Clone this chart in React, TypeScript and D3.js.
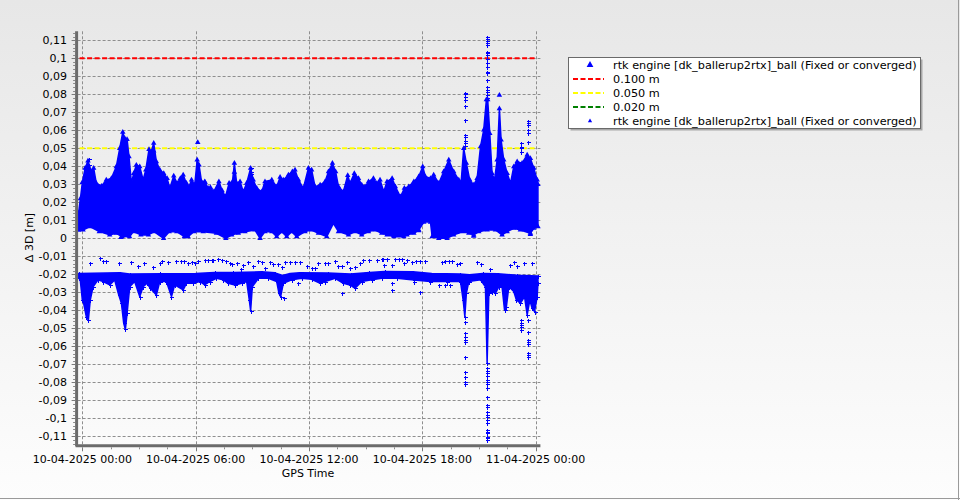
import React from "react";
import * as d3 from "d3";

const W = 960;
const H = 500;

// x values: hours since 10-04-2025 00:00 (GPS Time)
const xTickHours = [0, 6, 12, 18, 24];
const xTickLabels = [
  "10-04-2025 00:00",
  "10-04-2025 06:00",
  "10-04-2025 12:00",
  "10-04-2025 18:00",
  "11-04-2025 00:00",
];
const xMinorHours = [1.5, 3, 4.5, 7.5, 9, 10.5, 13.5, 15, 16.5, 19.5, 21, 22.5];

const yTickValues = [0.11, 0.1, 0.09, 0.08, 0.07, 0.06, 0.05, 0.04, 0.03, 0.02, 0.01, 0, -0.01, -0.02, -0.03, -0.04, -0.05, -0.06, -0.07, -0.08, -0.09, -0.1, -0.11];
const yTickLabels = ["0,11", "0,1", "0,09", "0,08", "0,07", "0,06", "0,05", "0,04", "0,03", "0,02", "0,01", "0", "-0,01", "-0,02", "-0,03", "-0,04", "-0,05", "-0,06", "-0,07", "-0,08", "-0,09", "-0,1", "-0,11"];

const thresholdValues = [0.1, 0.05, 0.02];
const thresholdColors = ["#ff0000", "#ffff00", "#008000"];
const thresholdLabels = ["0.100 m", "0.050 m", "0.020 m"];
const seriesName = "rtk engine [dk_ballerup2rtx]_ball (Fixed or converged)";

// Series 1 (triangles): upper edge of the dense band [hour, value]
const s1Top: [number, number][] = [
  [-0.2, 0.014], [-0.1, 0.022], [0.0, 0.031], [0.15, 0.039], [0.3, 0.043], [0.48, 0.037], [0.6, 0.039],
  [0.74, 0.0306], [1.01, 0.029], [1.27, 0.0324], [1.54, 0.0333], [1.8, 0.0398], [1.98, 0.05], [2.14, 0.0589],
  [2.24, 0.0556], [2.37, 0.055], [2.47, 0.0454], [2.6, 0.0306], [2.72, 0.036], [2.86, 0.0407], [3.04, 0.0398],
  [3.22, 0.0324], [3.36, 0.038], [3.53, 0.0494], [3.64, 0.048], [3.78, 0.0528], [3.92, 0.0426], [4.1, 0.038],
  [4.31, 0.0361], [4.49, 0.0333], [4.63, 0.0278], [4.84, 0.0346], [5.02, 0.0306], [5.19, 0.0333], [5.34, 0.0352],
  [5.51, 0.0306], [5.64, 0.0283], [5.78, 0.0324], [5.95, 0.0296], [6.08, 0.0435], [6.18, 0.0407], [6.31, 0.0315],
  [6.48, 0.0315], [6.66, 0.0278], [6.78, 0.0283], [6.96, 0.0259], [7.23, 0.0315], [7.4, 0.0265], [7.58, 0.0231],
  [7.77, 0.0306], [7.95, 0.0315], [8.05, 0.0417], [8.17, 0.0306], [8.35, 0.0315], [8.52, 0.0259], [8.7, 0.0306],
  [8.91, 0.0389], [9.05, 0.0324], [9.23, 0.0278], [9.5, 0.0259], [9.67, 0.0315], [10.03, 0.0324], [10.29, 0.0287],
  [10.47, 0.0339], [10.64, 0.0324], [10.91, 0.0352], [11.12, 0.037], [11.26, 0.038], [11.44, 0.0324], [11.7, 0.0278],
  [11.97, 0.0389], [12.14, 0.038], [12.32, 0.0287], [12.59, 0.0296], [12.85, 0.0315], [13.03, 0.037], [13.24, 0.0417],
  [13.41, 0.037], [13.56, 0.0287], [13.82, 0.0259], [14.05, 0.035], [14.17, 0.0306], [14.4, 0.0361], [14.62, 0.0333],
  [14.79, 0.0296], [14.97, 0.0287], [15.15, 0.0315], [15.41, 0.0333], [15.59, 0.0306], [15.76, 0.0324], [15.96, 0.0259],
  [16.13, 0.0315], [16.4, 0.0333], [16.57, 0.0287], [16.84, 0.0231], [17.05, 0.0278], [17.28, 0.0287], [17.55, 0.0315],
  [17.81, 0.0343], [18.02, 0.0398], [18.16, 0.0343], [18.43, 0.0333], [18.6, 0.0352], [18.87, 0.0306], [19.13, 0.037],
  [19.4, 0.0435], [19.66, 0.037], [19.93, 0.0324], [20.05, 0.0306], [20.19, 0.05], [20.33, 0.0417], [20.51, 0.0324],
  [20.72, 0.0296], [20.9, 0.0333], [21.08, 0.0509], [21.25, 0.0602], [21.39, 0.077], [21.46, 0.077], [21.57, 0.0583],
  [21.69, 0.0361], [21.82, 0.0324], [21.96, 0.0435], [22.08, 0.072], [22.17, 0.0546], [22.31, 0.0435], [22.49, 0.0361],
  [22.67, 0.0306], [22.84, 0.0398], [23.02, 0.0426], [23.28, 0.0417], [23.55, 0.0463], [23.72, 0.0444], [23.9, 0.0389],
  [24.08, 0.0324], [24.12, 0.03],
];

// Series 1: lower edge of the dense band
const s1Bottom: [number, number][] = [
  [-0.2, 0.0045], [0.04, 0.0046], [0.4, 0.0065], [0.9, 0.0037], [1.45, 0.0019], [1.8, 0.0028], [2.1, 0.001],
  [2.5, 0.0009], [2.7, 0.0037], [3.1, 0.0019], [3.5, 0.0019], [3.8, 0.0037], [4.3, 0.0], [4.6, 0.0037], [5.0, 0.0037],
  [5.4, 0.0009], [5.6, 0.0009], [5.9, 0.0037], [6.4, 0.0037], [7.1, 0.0028], [7.6, 0.0], [7.91, 0.0019], [8.26, 0.0028],
  [8.61, 0.0037], [9.14, 0.0046], [9.41, 0.0], [9.67, 0.0037], [10.03, 0.0037], [10.29, 0.0009], [10.56, 0.0037],
  [10.82, 0.0009], [11.08, 0.0037], [11.35, 0.0009], [11.79, 0.0037], [12.14, 0.0046], [12.5, 0.0028], [12.94, 0.0009],
  [13.29, 0.0083], [13.56, 0.0037], [14.09, 0.0019], [14.44, 0.0037], [14.79, 0.0019], [15.15, 0.0037], [15.5, 0.0046],
  [15.85, 0.0028], [16.13, 0.0019], [16.49, 0.0009], [17.02, 0.0009], [17.19, 0.0019], [17.55, 0.0028], [17.81, 0.0046],
  [18.08, 0.009], [18.43, 0.009], [18.52, 0.0009], [18.87, 0.0], [19.31, 0.0], [19.66, 0.0019], [20.19, 0.0037],
  [20.46, 0.0028], [20.72, 0.0019], [20.99, 0.0037], [21.43, 0.0046], [21.87, 0.0046], [22.22, 0.0019], [22.49, 0.0037],
  [22.84, 0.0056], [23.19, 0.0046], [23.72, 0.0028], [23.9, 0.0056], [24.12, 0.0065],
];

// Series 1: isolated triangles
const s1Single: [number, number][] = [
  [6.11, 0.0533], [22.08, 0.0795], [8.05, 0.0367], [6.5, 0.031], [2.26, 0.052], [3.78, 0.0485], [2.05, 0.0005],
  [17.81, 0.0042], [20.72, 0.0012], [23.72, 0.0022],
];

// Series 2 (plus markers): band near -0.02, top edge and bottom edge
const s2Top: [number, number][] = [
  [-0.2, -0.0195], [2, -0.0192], [2.5, -0.0198], [6, -0.0196], [7, -0.019], [8, -0.019], [9.5, -0.0186],
  [10.2, -0.0192], [10.6, -0.0207], [11.0, -0.0196], [11.5, -0.0192], [13, -0.0193], [14.2, -0.0198], [15.2, -0.019],
  [16, -0.0184], [17.5, -0.0186], [18.5, -0.0196], [20, -0.0198], [20.5, -0.0203], [21.2, -0.0195], [22, -0.0197],
  [23, -0.0205], [24.12, -0.021],
];
const s2Bottom: [number, number][] = [
  [-0.2, -0.022], [-0.11, -0.0231], [0.0, -0.0343], [0.07, -0.0361], [0.21, -0.0435], [0.32, -0.0454], [0.42, -0.0343],
  [0.57, -0.0269], [0.83, -0.0231], [1.1, -0.024], [1.45, -0.0259], [1.71, -0.0231], [1.93, -0.0315], [2.07, -0.0361],
  [2.19, -0.0472], [2.28, -0.0506], [2.37, -0.0417], [2.51, -0.0269], [2.77, -0.024], [3.04, -0.0324], [3.22, -0.0269],
  [3.43, -0.025], [3.6, -0.0278], [3.92, -0.0315], [4.1, -0.024], [4.45, -0.024], [4.72, -0.0324], [4.89, -0.0259],
  [5.34, -0.0287], [5.51, -0.025], [5.87, -0.025], [6.22, -0.024], [6.48, -0.0259], [6.75, -0.024], [7.1, -0.0222],
  [7.46, -0.0231], [7.72, -0.025], [8.08, -0.0259], [8.44, -0.025], [8.7, -0.024], [8.84, -0.0343], [8.91, -0.0402],
  [9.0, -0.0269], [9.32, -0.0222], [9.85, -0.0222], [10.29, -0.024], [10.41, -0.0306], [10.5, -0.0324], [10.64, -0.025],
  [11.08, -0.0231], [11.61, -0.0222], [12.14, -0.0228], [12.59, -0.025], [12.85, -0.024], [13.38, -0.0222], [13.82, -0.025],
  [14.17, -0.0259], [14.44, -0.0278], [14.79, -0.024], [15.32, -0.0231], [15.85, -0.0222], [16.66, -0.0222],
  [17.55, -0.0231], [18.43, -0.024], [19.31, -0.024], [20.02, -0.024], [20.16, -0.0343], [20.25, -0.0435], [20.33, -0.0306],
  [20.46, -0.024], [21.08, -0.0231], [21.34, -0.0269], [21.43, -0.069], [21.52, -0.0306], [21.69, -0.0296], [21.87, -0.0306],
  [22.05, -0.0269], [22.22, -0.0269], [22.35, -0.0398], [22.45, -0.038], [22.58, -0.0269], [22.84, -0.0296], [22.98, -0.0343],
  [23.19, -0.0361], [23.41, -0.0324], [23.55, -0.0426], [23.69, -0.0343], [23.81, -0.0389], [23.94, -0.0407], [24.08, -0.0324],
  [24.12, -0.025],
];

// Series 2: scattered single points
const s2Scatter: [number, number][] = [
  [0.39, -0.0135], [0.92, -0.0111], [1.1, -0.0128], [1.24, -0.0124], [1.93, -0.0139], [2.56, -0.0133], [2.93, -0.0154],
  [3.27, -0.0139], [3.75, -0.0161], [4.1, -0.0139], [4.24, -0.0124], [4.56, -0.0133], [4.98, -0.0128], [5.25, -0.0128],
  [5.37, -0.0128], [5.58, -0.0135], [5.78, -0.0133], [5.95, -0.0139], [6.13, -0.0128], [6.48, -0.0122], [6.66, -0.0122],
  [6.84, -0.0122], [6.93, -0.0122], [7.19, -0.0117], [7.37, -0.0122], [7.63, -0.0128], [7.82, -0.0139], [7.94, -0.0143],
  [8.17, -0.0135], [8.4, -0.0172], [8.52, -0.0148], [8.75, -0.0133], [9.05, -0.0152], [9.28, -0.0124], [9.5, -0.013],
  [9.67, -0.0167], [9.94, -0.013], [10.11, -0.0143], [10.38, -0.0143], [10.55, -0.0157], [10.73, -0.0133], [11.0, -0.0133],
  [11.26, -0.0133], [11.53, -0.013], [11.88, -0.0154], [12.14, -0.0167], [12.32, -0.0167], [12.46, -0.0139], [12.85, -0.0135],
  [13.03, -0.0139], [13.38, -0.0124], [13.56, -0.0152], [13.73, -0.0152], [14.0, -0.013], [14.17, -0.0167], [14.44, -0.0161],
  [14.7, -0.0139], [14.88, -0.012], [15.15, -0.0122], [15.59, -0.0122], [15.9, -0.0115], [15.87, -0.0117], [15.96, -0.0148],
  [16.13, -0.0117], [16.4, -0.0148], [16.57, -0.0117], [16.75, -0.0117], [16.93, -0.0117], [17.05, -0.0139], [17.19, -0.012],
  [17.46, -0.0133], [17.69, -0.0124], [17.9, -0.0124], [18.16, -0.0124], [19.05, -0.0133], [19.22, -0.0124], [19.4, -0.0124],
  [19.58, -0.0124], [19.84, -0.0143], [20.02, -0.0139], [20.9, -0.0133], [21.08, -0.0143], [21.57, -0.0172], [22.63, -0.0148],
  [22.84, -0.0133], [23.02, -0.0152], [23.37, -0.0139], [23.81, -0.0139],
  [3.87, -0.0202], [4.1, -0.0193], [10.7, -0.0333], [11.4, -0.0246], [13.73, -0.0306], [16.4, -0.025], [16.4, -0.0287],
  [17.9, -0.0296], [17.55, -0.024], [18.43, -0.024], [18.87, -0.0259], [19.22, -0.0259], [19.49, -0.0259],
  [0.34, 0.0439], [0.34, 0.041], [8.91, 0.0389], [8.91, 0.037], [8.91, 0.0355],
];

// Series 2: vertical spikes of single points
const s2Spikes: [number, number][] = [
  [20.25, 0.0809], [20.25, 0.0802], [20.25, 0.0787], [20.25, 0.0768], [20.25, 0.0735], [20.25, 0.0657], [20.25, 0.0574],
  [20.25, 0.0565], [20.25, 0.0542], [20.25, 0.0528], [20.25, 0.0513],
  [21.43, 0.112], [21.43, 0.111], [21.43, 0.1098], [21.43, 0.1087], [21.43, 0.1074], [21.43, 0.1037], [21.43, 0.1028],
  [21.43, 0.1018], [21.43, 0.0994], [21.43, 0.0972], [21.43, 0.0953], [21.43, 0.0926], [21.43, 0.0917], [21.43, 0.0879],
  [21.43, 0.0842], [21.43, 0.0824], [21.43, 0.0814], [21.43, 0.0796], [21.43, 0.0778],
  [23.59, 0.065], [23.59, 0.064], [23.59, 0.063], [23.59, 0.06], [23.59, 0.0585], [23.59, 0.0537],
  [23.2, 0.053], [23.2, 0.051], [23.2, 0.05], [23.2, 0.048],
  [20.25, -0.0435], [20.25, -0.0463], [20.25, -0.0528], [20.25, -0.0546], [20.25, -0.0565], [20.25, -0.0574],
  [20.25, -0.0661], [20.25, -0.0741], [20.25, -0.0769], [20.25, -0.0797], [20.25, -0.081],
  [21.43, -0.0722], [21.43, -0.0735], [21.43, -0.075], [21.43, -0.0765], [21.43, -0.0787], [21.43, -0.0796],
  [21.43, -0.0809], [21.43, -0.0833], [21.43, -0.088], [21.43, -0.0926], [21.43, -0.0935], [21.43, -0.0963],
  [21.43, -0.0981], [21.43, -0.0994], [21.43, -0.1009], [21.43, -0.1024], [21.43, -0.1065], [21.43, -0.1074],
  [21.43, -0.1083], [21.43, -0.1102], [21.43, -0.1111], [21.43, -0.112],
  [23.2, -0.0454], [23.2, -0.0469], [23.2, -0.0482], [23.2, -0.0494], [23.2, -0.051],
  [23.59, -0.0454], [23.59, -0.0519], [23.59, -0.0565], [23.59, -0.0574], [23.59, -0.0587], [23.59, -0.0639],
  [23.59, -0.0648], [23.59, -0.0658],
];

const FONT = "'DejaVu Sans', Verdana, sans-serif";
const BLUE = "#0000ff";

export default function App() {
  const x = d3.scaleLinear().domain([-0.25, 24.25]).range([77.6, 540.4]);
  const y = d3.scaleLinear().domain([-0.115, 0.115]).range([445.3, 31.3]);
  const line = d3.line<[number, number]>().x((d) => x(d[0])).y((d) => y(d[1]));
  const bandPath = (top: [number, number][], bottom: [number, number][]) =>
    line([...top, ...bottom.slice().reverse()]) + "Z";

  const tri = d3.symbol().type(d3.symbolTriangle).size(13)() as string;
  const triLegBig = d3.symbol().type(d3.symbolTriangle).size(20)() as string;
  const triLegSmall = d3.symbol().type(d3.symbolTriangle).size(8)() as string;
  const plus = "M-2,0H2M0,-2V2";

  const px = (v: number) => Math.round(v) + 0.5;
  const [x0, x1] = x.range();
  const [yB, yT] = y.range();
  const axisColor = "#6b6b6b";
  const gridColor = "#8e8e8e";

  const yMinor: number[] = [];
  for (let i = -57; i <= 57; i++) {
    if (i % 5 !== 0) yMinor.push(i * 0.002);
  }

  const legX = 568.5;
  const legY = 57.5;
  const legW = 352;
  const legH = 71;
  const rowY = (i: number) => 65 + i * 14;
  const legFont = 11.25;

  return (
    <svg width={W} height={H} style={{ position: "absolute", left: 0, top: 0 }} fontFamily={FONT}>
      <defs>
        <linearGradient id="bg" x1="0" y1="0" x2="0" y2="1">
          <stop offset="0" stopColor="#e7e7e7" />
          <stop offset="1" stopColor="#fdfdfd" />
        </linearGradient>
      </defs>
      <rect x={0} y={0} width={W} height={H} fill="url(#bg)" />
      <line x1={0} x2={W} y1={498.5} y2={498.5} stroke="#9a9a9a" />
      <line x1={958.5} x2={958.5} y1={0} y2={H} stroke="#9a9a9a" />

      {/* grid */}
      {yTickValues.map((v) => (
        <line key={"gy" + v} x1={x0} x2={x1} y1={px(y(v))} y2={px(y(v))} stroke={gridColor} strokeDasharray="3,2" />
      ))}
      {xTickHours.map((h) => (
        <line key={"gx" + h} x1={px(x(h))} x2={px(x(h))} y1={yT} y2={yB} stroke={gridColor} strokeDasharray="3,2" />
      ))}

      {/* thresholds */}
      {thresholdValues.map((v, i) => (
        <line key={"th" + v} x1={x0 + 2} x2={x1 - 4} y1={y(v)} y2={y(v)} stroke={thresholdColors[i]} strokeWidth={2} strokeDasharray="5,2.5" />
      ))}

      {/* series 1: dense band */}
      <path d={bandPath(s1Top, s1Bottom)} fill={BLUE} stroke={BLUE} strokeWidth={1.5} strokeLinejoin="round" />
      {s1Top.concat(s1Bottom, s1Single).map((d, i) => (
        <path key={"t" + i} d={tri} transform={`translate(${x(d[0])},${y(d[1])})`} fill={BLUE} />
      ))}

      {/* series 2 */}
      <path d={bandPath(s2Top, s2Bottom)} fill={BLUE} stroke={BLUE} strokeWidth={1.5} strokeLinejoin="round" />
      {s2Top.concat(s2Bottom, s2Scatter, s2Spikes).map((d, i) => (
        <path
          key={"p" + i}
          d={plus}
          transform={`translate(${Math.round(x(d[0])) + 0.5},${Math.round(y(d[1])) + 0.5})`}
          stroke={BLUE}
          strokeWidth={1}
          fill="none"
          shapeRendering="crispEdges"
        />
      ))}

      {/* axes */}
      <line x1={x0 - 1} x2={x0 - 1} y1={yT} y2={yB + 1} stroke={axisColor} strokeWidth={3} />
      <line x1={x0 - 2} x2={x1} y1={yB + 0.5} y2={yB + 0.5} stroke={axisColor} strokeWidth={3} />

      {yTickValues.map((v, i) => (
        <g key={"yt" + v}>
          <line x1={x0 - 6} x2={x0 - 2.5} y1={px(y(v))} y2={px(y(v))} stroke="#7a7a7a" />
          <text x={67} y={y(v) + 4} textAnchor="end" fontSize={11} fill="#000">
            {yTickLabels[i]}
          </text>
        </g>
      ))}
      {yMinor.map((v) => (
        <line key={"ym" + v} x1={x0 - 4.5} x2={x0 - 2.5} y1={px(y(v))} y2={px(y(v))} stroke="#8a8a8a" />
      ))}

      {xTickHours.map((h, i) => (
        <g key={"xt" + h}>
          <line x1={px(x(h))} x2={px(x(h))} y1={yB + 2} y2={yB + 6} stroke="#7a7a7a" />
          <text x={x(h)} y={463} textAnchor="middle" fontSize={11} fill="#000">
            {xTickLabels[i]}
          </text>
        </g>
      ))}
      {xMinorHours.map((h) => (
        <line key={"xm" + h} x1={px(x(h))} x2={px(x(h))} y1={yB + 2} y2={yB + 4} stroke="#8a8a8a" />
      ))}

      <text x={308} y={477} textAnchor="middle" fontSize={11} fill="#000">
        GPS Time
      </text>
      <text transform="translate(32.5,237.5) rotate(-90)" textAnchor="middle" fontSize={11} fill="#000">
        Δ 3D [m]
      </text>

      {/* legend */}
      <rect x={legX + 2} y={legY + 2} width={legW} height={legH} fill="#a8a8a8" />
      <rect x={legX} y={legY} width={legW} height={legH} fill="#ffffff" stroke="#6a6a6a" />
      <path d={triLegBig} transform={`translate(590,${rowY(0)})`} fill={BLUE} />
      <text x={613} y={rowY(0) + 4} fontSize={legFont} fill="#000">{seriesName}</text>
      {thresholdLabels.map((lab, i) => (
        <g key={lab}>
          <line x1={573} x2={604} y1={rowY(i + 1)} y2={rowY(i + 1)} stroke={thresholdColors[i]} strokeWidth={2} strokeDasharray="5,2.5" />
          <text x={613} y={rowY(i + 1) + 4} fontSize={legFont} fill="#000">{lab}</text>
        </g>
      ))}
      <path d={triLegSmall} transform={`translate(590,${rowY(4)})`} fill={BLUE} />
      <text x={613} y={rowY(4) + 4} fontSize={legFont} fill="#000">{seriesName}</text>
    </svg>
  );
}
